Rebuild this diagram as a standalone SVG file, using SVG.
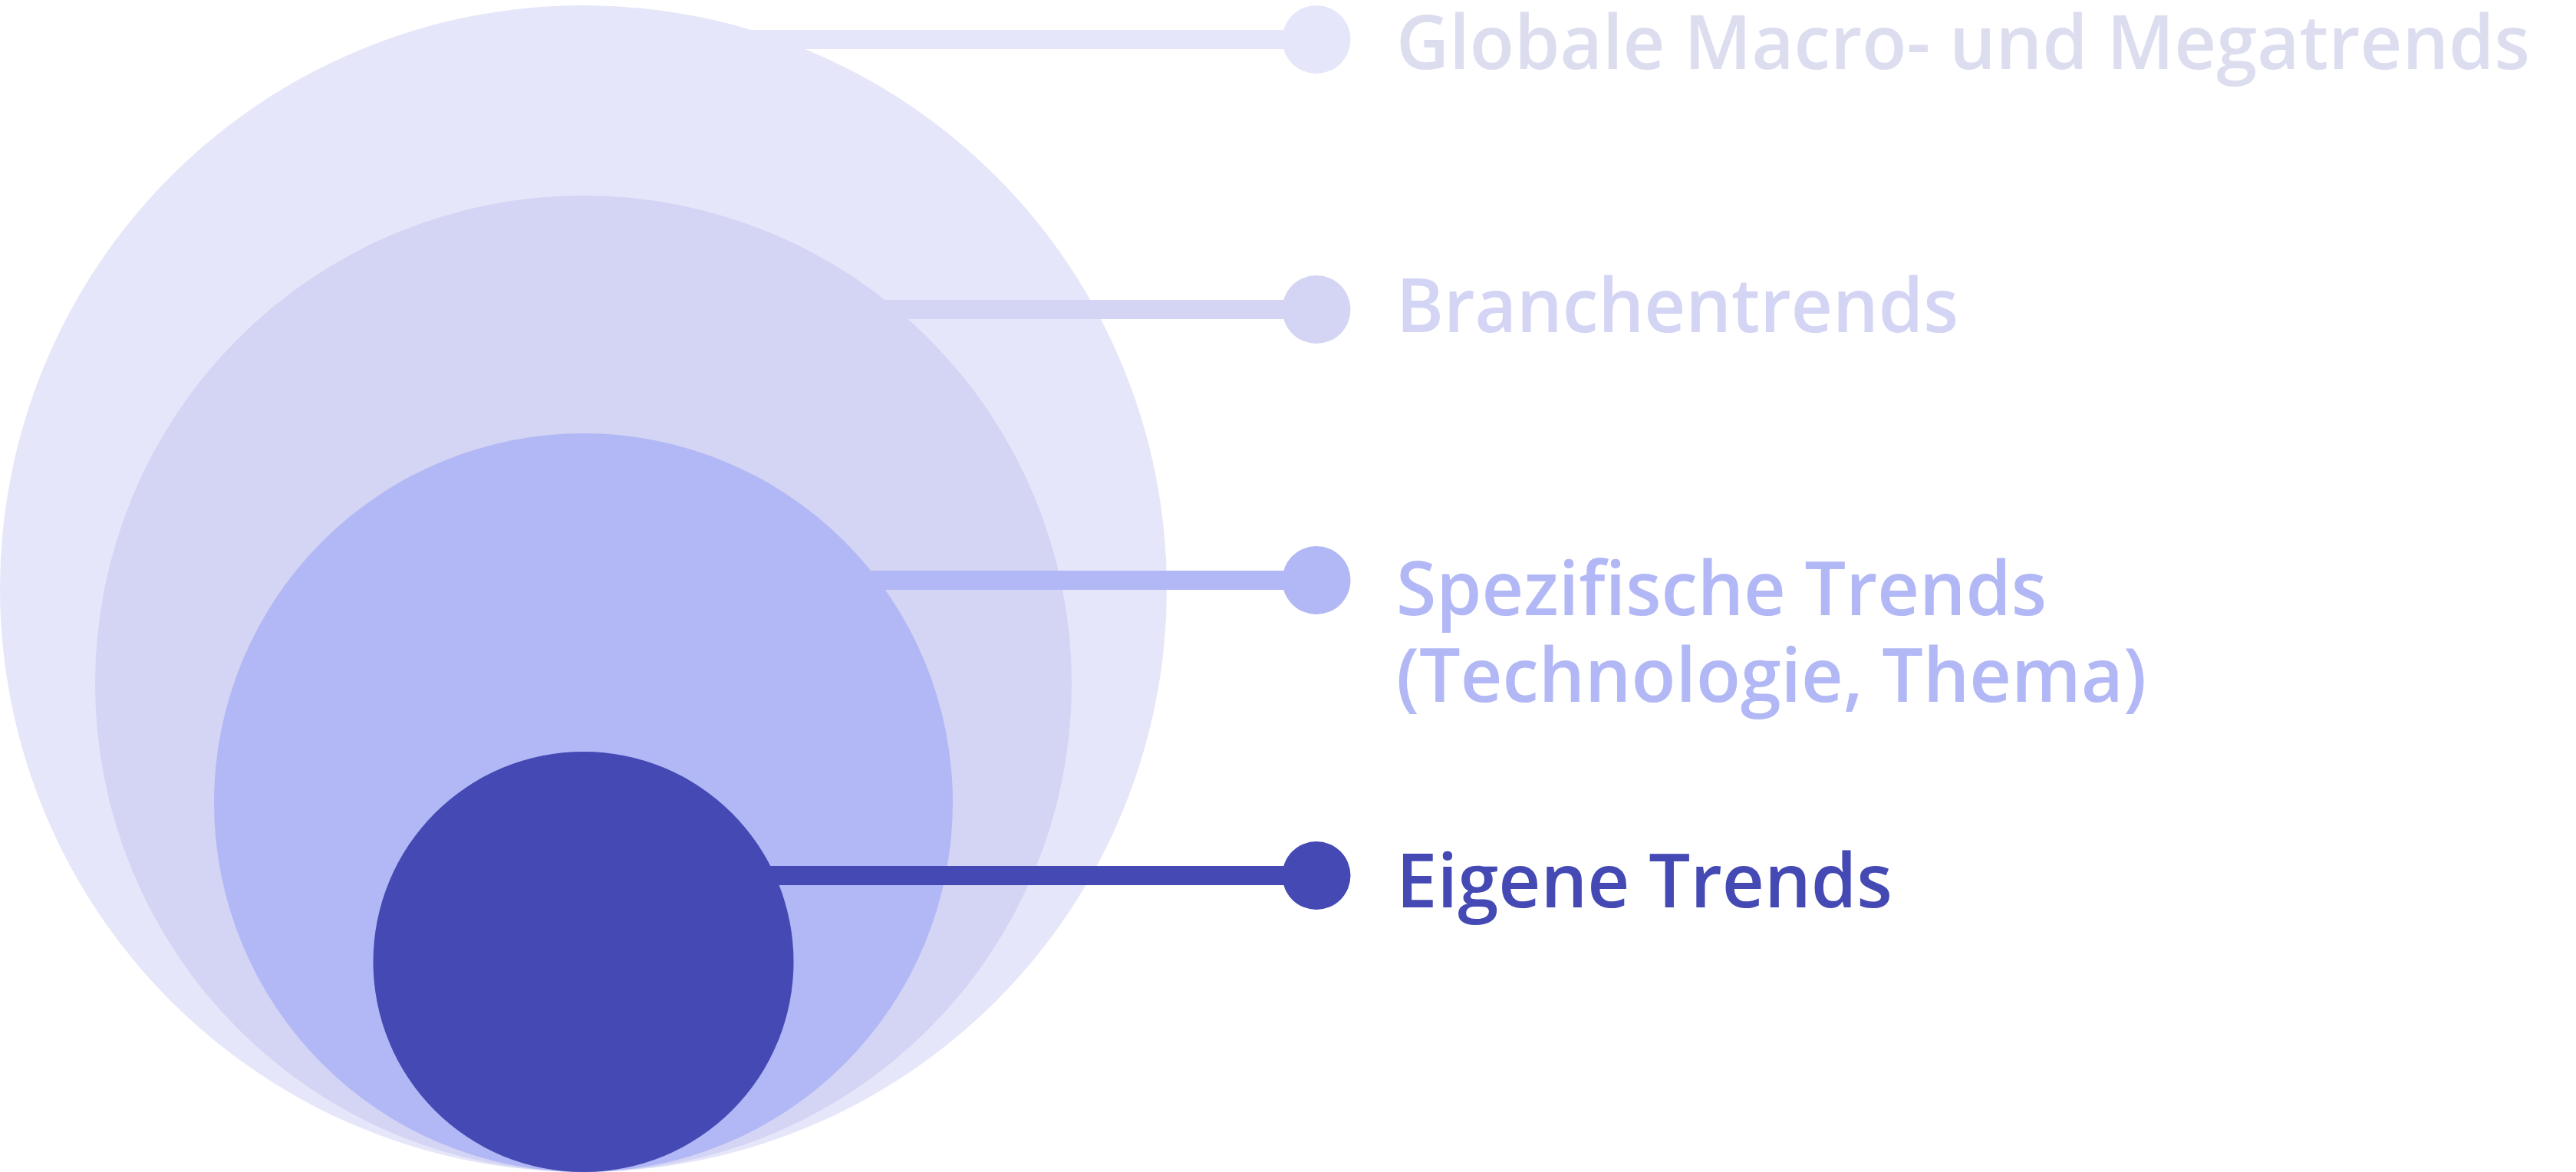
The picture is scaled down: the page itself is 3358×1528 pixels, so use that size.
<svg xmlns="http://www.w3.org/2000/svg" width="3358" height="1528" viewBox="0 0 3358 1528">
<style>
  .lbl { font-family: "Open Sans", Lato, "Liberation Sans", sans-serif; font-size: 97px; font-weight: 600; }
  .c1 { fill: #E5E6F9; }
  .c2 { fill: #D4D4F4; }
  .c3 { fill: #B2B8F5; }
  .c4 { fill: #4449B4; }
  .t1 { fill: #DCDEF0; }
  .s1 { stroke: #E5E6F9; }
  .s2 { stroke: #D4D4F4; }
  .s3 { stroke: #B2B8F5; }
  .s4 { stroke: #4449B4; }
  .conn line { stroke-width: 25; }
</style>
<rect width="3358" height="1528" fill="#FFFFFF"/>
<g id="node-global">
  <circle class="c1" cx="760.5" cy="767.5" r="760.5"/>
</g>
<g id="node-branche">
  <circle class="c2" cx="760.5" cy="891.5" r="636.5"/>
</g>
<g id="node-spezifisch">
  <circle class="c3" cx="760.5" cy="1046.5" r="481.5"/>
</g>
<g id="node-eigen">
  <circle class="c4" cx="760.5" cy="1254" r="274"/>
</g>
<g id="connectors" class="conn">
  <line class="s1" x1="760" y1="51.5" x2="1716" y2="51.5"/>
  <circle class="c1" cx="1716" cy="51.5" r="44.5"/>
  <line class="s2" x1="760" y1="403.5" x2="1716" y2="403.5"/>
  <circle class="c2" cx="1716" cy="403.5" r="44.5"/>
  <line class="s3" x1="760" y1="756.5" x2="1716" y2="756.5"/>
  <circle class="c3" cx="1716" cy="756.5" r="44.5"/>
  <line class="s4" x1="760" y1="1141.5" x2="1716" y2="1141.5"/>
  <circle class="c4" cx="1716" cy="1141.5" r="44.5"/>
</g>
<g id="label-global">
  <text class="lbl t1" x="1820" y="90" textLength="1478" lengthAdjust="spacingAndGlyphs">Globale Macro- und Megatrends</text>
</g>
<g id="label-branche">
  <text class="lbl c2" x="1820" y="433" textLength="733" lengthAdjust="spacingAndGlyphs">Branchentrends</text>
</g>
<g id="label-spezifisch">
  <text class="lbl c3"><tspan x="1820" y="802" textLength="848" lengthAdjust="spacingAndGlyphs">Spezifische Trends</tspan><tspan x="1820" y="915" textLength="978" lengthAdjust="spacingAndGlyphs">(Technologie, Thema)</tspan></text>
</g>
<g id="label-eigen">
  <text class="lbl c4" x="1820" y="1183" textLength="647" lengthAdjust="spacingAndGlyphs">Eigene Trends</text>
</g>
</svg>
